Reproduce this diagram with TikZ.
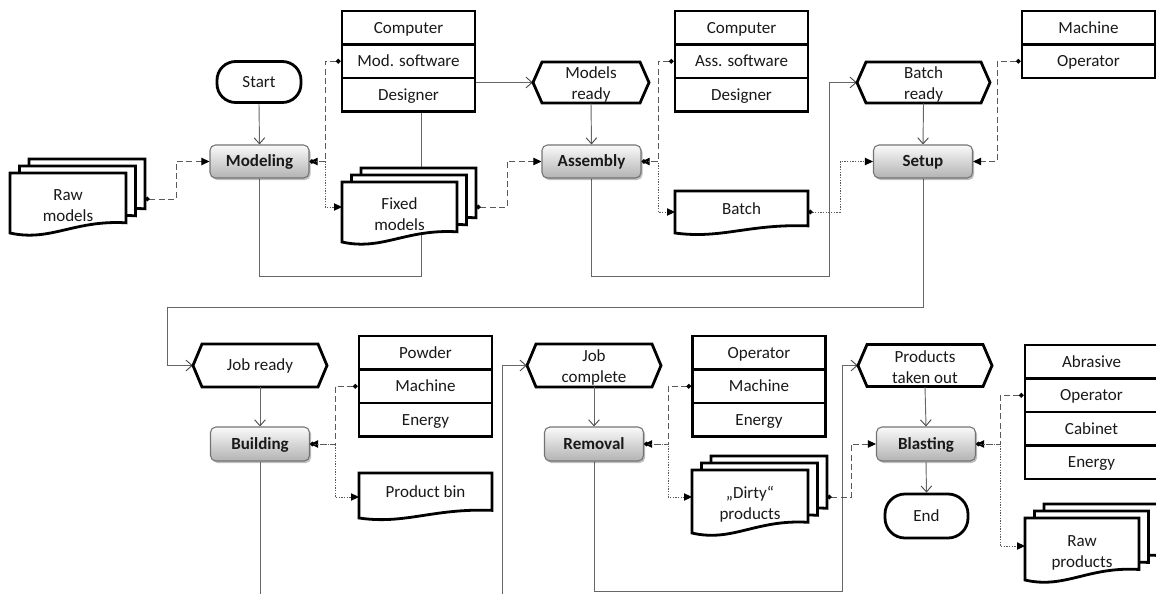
\documentclass[tikz,border=0pt]{standalone}
\usepackage{fontspec}
\setmainfont{Carlito}
\usetikzlibrary{arrows.meta,shadows,backgrounds}

\tikzset{
  txt/.style={font=\fontsize{12.75}{15.75}\selectfont, align=center, inner sep=0pt, text=black!90},
  one/.style={text height=10pt, text depth=1.8pt},
  two/.style={yshift=-1.5pt},
  shapeline/.style={draw=black, line width=2.1pt, fill=white, line join=miter},
  res/.style={txt, one, draw=black, line width=2.1pt, fill=white, minimum width=99.75pt, minimum height=25.125pt},
  func/.style={txt, one, font=\fontsize{12.75}{15.75}\selectfont\bfseries, draw=black!55, line width=0.8pt, rounded corners=4pt,
    top color=black!2, bottom color=black!30, minimum width=74.25pt, minimum height=24.75pt,
    drop shadow={shadow xshift=1.2pt, shadow yshift=-1.5pt, fill=black, opacity=0.25}},
  term/.style={txt, one, draw=black, line width=2.1pt, fill=white, rounded corners=14pt},
  flow/.style={draw=black!60, line width=0.7pt, -{Straight Barb[length=4.5pt,width=8pt,color=black!70]}},
  inp/.style={draw=black!65, line width=0.7pt, dash pattern=on 4.5pt off 2.5pt,
    {Circle[length=3.5pt,color=black]}-{Triangle[length=6pt,width=5.5pt,color=black]}},
  outp/.style={draw=black!65, line width=0.7pt, dash pattern=on 1pt off 1pt,
    {Circle[length=3.5pt,color=black]}-{Triangle[length=6pt,width=5.5pt,color=black]}},
}

% hexagon: name, cx, cy, w, h, text, text style
\newcommand{\hexa}[7]{%
  \filldraw[shapeline] ({#2-#4/2},#3) -- ({#2-#4/2+9},{#3-#5/2}) -- ({#2+#4/2-9},{#3-#5/2}) -- ({#2+#4/2},#3) -- ({#2+#4/2-9},{#3+#5/2}) -- ({#2-#4/2+9},{#3+#5/2}) -- cycle;
  \node[inner sep=0pt, minimum width={#4*0.75pt}, minimum height={#5*0.75pt}] (#1) at (#2,#3) {};
  \node[txt, #7] (#1-t) at (#2,#3) {#6};}
\newcommand{\docp}[4]{%
  \filldraw[shapeline] (#1,#2) -- ({#1+#3},#2) -- ({#1+#3},{#2+0.83*#4}) .. controls ({#1+0.55*#3},{#2+0.78*#4}) and ({#1+0.35*#3},{#2+1.15*#4}) .. (#1,{#2+#4}) -- cycle;}
\newcommand{\multidocp}[4]{%
  \docp{#1+19}{#2-14}{#3}{#4}\docp{#1+9.5}{#2-7}{#3}{#4}\docp{#1}{#2}{#3}{#4}}

\begin{document}
\begin{tikzpicture}[x=0.75pt,y=-0.75pt]
\useasboundingbox (0,0) rectangle (1156,593);

% ---------- top row ----------
\node[term, minimum width=63pt, minimum height=30.75pt] (start) at (259,82) {Start};
\node[func] (mod) at (259.5,161.5) {Modeling};

\multidocp{10}{173}{116}{60}
\node[txt, two] (rm) at (68,204) {Raw\\models};
\coordinate (rmo) at (145,199);

\node[res] (t1a) at (408.5,27.75) {Computer};
\node[res] (t1b) at (408.5,61.25) {Mod. software};
\node[res] (t1c) at (408.5,94.75) {Designer};

\multidocp{342}{182}{115}{60}
\node[txt, two] (fm) at (399.5,212) {Fixed\\models};
\coordinate (fmi) at (342,207);
\coordinate (fmo) at (476,207);

\hexa{mr}{591}{82.5}{116}{41}{Models\\ready}{two}
\node[func] (asm) at (591.5,161.5) {Assembly};

\node[res] (t2a) at (741.5,27.75) {Computer};
\node[res] (t2b) at (741.5,61.25) {Ass. software};
\node[res] (t2c) at (741.5,94.75) {Designer};

\docp{675}{191}{133}{42}
\node[txt, one] (bt) at (741.5,209) {Batch};
\coordinate (bti) at (675,212);
\coordinate (bto) at (808,212);

\hexa{br}{923.5}{82.5}{133}{41}{Batch\\ready}{two}
\node[func] (setup) at (923,161.5) {Setup};

\node[res] (t3a) at (1088.5,27.75) {Machine};
\node[res] (t3b) at (1088.5,61.25) {Operator};

% ---------- bottom row ----------
\hexa{jr}{260}{365.5}{134}{43}{Job ready}{one}
\node[func, minimum height=25.5pt] (bld) at (260,444) {Building};

\node[res] (t4a) at (425.5,352.75) {Powder};
\node[res] (t4b) at (425.5,386.25) {Machine};
\node[res] (t4c) at (425.5,419.75) {Energy};

\docp{359}{473}{133}{45}
\node[txt, one] (pb) at (425.5,492) {Product bin};
\coordinate (pbi) at (359,497);

\hexa{jc}{594}{365.5}{134}{43}{Job\\complete}{two}
\node[func, minimum height=25.5pt] (rem) at (594,444) {Removal};

\node[res] (t5a) at (759,352.75) {Operator};
\node[res] (t5b) at (759,386.25) {Machine};
\node[res] (t5c) at (759,419.75) {Energy};

\multidocp{692}{470}{116}{63}
\node[txt, two] (dp) at (750,502) {„Dirty“\\products};
\coordinate (dpi) at (692,497);
\coordinate (dpo) at (827,497);

\hexa{pto}{925}{365.5}{134}{42}{Products\\taken out}{two}
\node[func, minimum height=25.5pt] (bla) at (926,444) {Blasting};
\node[term, minimum width=62.25pt, minimum height=33pt, rounded corners=15pt] (end) at (926.5,516) {End};

\node[res] (t6a) at (1091.5,361.75) {Abrasive};
\node[res] (t6b) at (1091.5,395.25) {Operator};
\node[res] (t6c) at (1091.5,428.75) {Cabinet};
\node[res] (t6d) at (1091.5,462.25) {Energy};

\multidocp{1025}{518}{114}{62}
\node[txt, two] (rp) at (1082,551) {Raw\\products};
\coordinate (rpi) at (1025,546);

\coordinate (b1) at (260,597);
\coordinate (b2) at (502,597);

% ---------- control flow (behind) ----------
\begin{scope}[on background layer]
\draw[flow] (mod.south) |- (421,276) |- (mr.west);
\draw[flow] (asm.south) |- (829,276) |- (br.west);
\draw[flow] (setup.south) |- (167,307) |- (jr.west);
\draw[flow] (rem.south) |- (842,591) |- (pto.west);
\end{scope}
\draw[flow] (start.south) -- (mod.north);
\draw[flow] (mr.south) -- (asm.north);
\draw[flow] (br.south) -- (setup.north);
\draw[flow] (jr.south) -- (bld.north);
\draw[draw=black!60, line width=0.7pt] (bld.south) -- (b1);
\draw[flow] (b2) |- (jc.west);
\draw[flow] (jc.south) -- (rem.north);
\draw[flow] (pto.south) -- (bla.north);
\draw[flow] (bla.south) -- (end.north);

% ---------- inputs / outputs ----------
\draw[inp] (rmo) -- (176,199) |- (mod.west);
\draw[inp] (t1b.west) -- (325,61.25) |- (mod.east);
\draw[outp] (mod.east) -| (325,207) -- (fmi);
\draw[inp] (fmo) -- (507,207) |- (asm.west);
\draw[inp] (t2b.west) -- (658,61.25) |- (asm.east);
\draw[outp] (asm.east) -| (658,212) -- (bti);
\draw[outp] (bto) -- (840,212) |- (setup.west);
\draw[inp] (t3b.west) -- (997,61.25) |- (setup.east);

\draw[inp] (t4b.west) -- (335,386.25) |- (bld.east);
\draw[outp] (bld.east) -| (335,497) -- (pbi);
\draw[inp] (t5b.west) -- (668,386.25) |- (rem.east);
\draw[outp] (rem.east) -| (668,497) -- (dpi);
\draw[inp] (dpo) -- (851,497) |- (bla.west);
\draw[inp] (t6b.west) -- (1000,395.25) |- (bla.east);
\draw[outp] (bla.east) -| (1000,546) -- (rpi);
\end{tikzpicture}
\end{document}
